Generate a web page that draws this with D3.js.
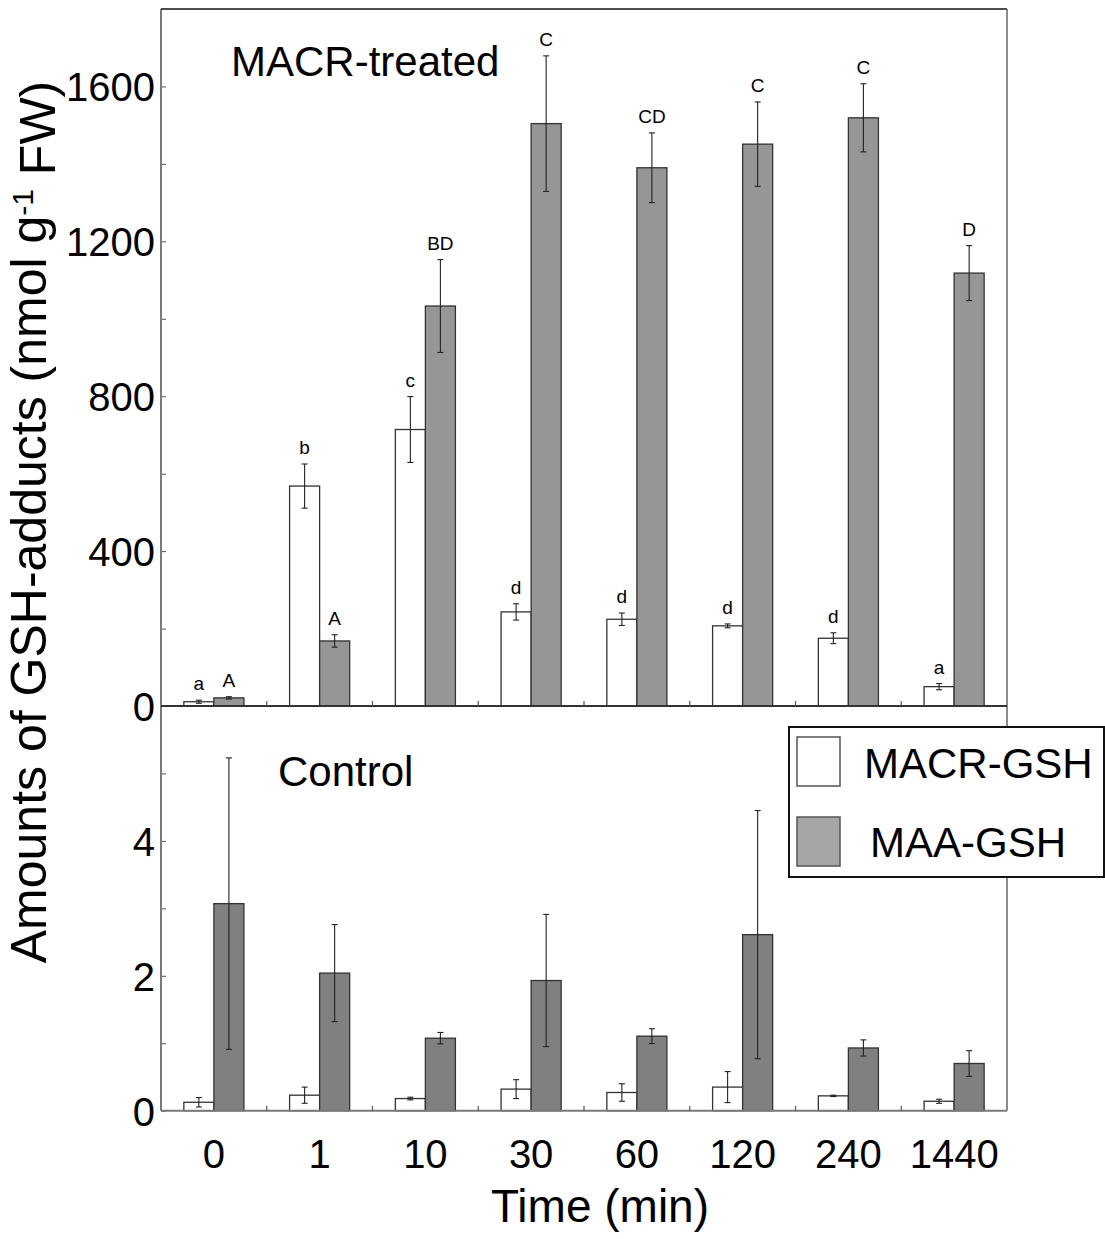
<!DOCTYPE html>
<html>
<head>
<meta charset="utf-8">
<script src="https://cdn.jsdelivr.net/npm/d3@7"></script>
<style>
  html, body { margin: 0; padding: 0; background: #fff; }
  svg { display: block; }
  text { font-family: "Liberation Sans", Arial, Helvetica, sans-serif; fill: #000; }
</style>
</head>
<body>
<svg id="chart" width="1105" height="1239"></svg>
<script>
// ---------- data ----------
const categories = ["0", "1", "10", "30", "60", "120", "240", "1440"];
const seriesNames = ["MACR-GSH", "MAA-GSH"];

// MACR-treated panel (nmol g-1 FW)
const treatedMACR    = [11, 568, 714, 243, 224, 207, 175, 50];
const treatedMACRErr = [4, 57, 85, 21, 16, 5, 14, 8];
const treatedMAA     = [21, 168, 1033, 1504, 1390, 1451, 1519, 1118];
const treatedMAAErr  = [3, 16, 120, 175, 90, 109, 88, 71];
const treatedMACRLetters = ["a", "b", "c", "d", "d", "d", "d", "a"];
const treatedMAALetters  = ["A", "A", "BD", "C", "CD", "C", "C", "D"];

// Control panel
const controlMACR    = [0.125, 0.23, 0.18, 0.32, 0.27, 0.35, 0.22, 0.14];
const controlMACRErr = [0.07, 0.12, 0.02, 0.14, 0.13, 0.23, 0.01, 0.03];
const controlMAA     = [3.07, 2.04, 1.075, 1.93, 1.105, 2.61, 0.93, 0.70];
const controlMAAErr  = [2.16, 0.72, 0.085, 0.98, 0.11, 1.84, 0.12, 0.19];

const topTicks = [0, 400, 800, 1200, 1600];
const topMinor = [200, 600, 1000, 1400];
const botTicks = [0, 2, 4];
const botMinor = [1, 3, 5];

// ---------- layout ----------
const L = 161, R = 1007, T = 9, MID = 706, B = 1110.7;
const svg = d3.select("#chart");

const x0 = d3.scaleBand().domain(categories).range([L, R]).paddingInner(0).paddingOuter(0);
const barW = x0.bandwidth() * 0.284;
const x1 = d3.scaleBand().domain(seriesNames).range([0, 2 * barW]);
const off = (x0.bandwidth() - 2 * barW) / 2;

const yTop = d3.scaleLinear().domain([0, 1800]).range([MID, T]);
const yBot = d3.scaleLinear().domain([0, 6]).range([B, MID]);

function buildRows(a, ae, b, be, la, lb) {
  return categories.map((c, i) => ([
    { cat: c, s: seriesNames[0], v: a[i], e: ae[i], lab: la ? la[i] : null },
    { cat: c, s: seriesNames[1], v: b[i], e: be[i], lab: lb ? lb[i] : null }
  ])).flat();
}

const topRows = buildRows(treatedMACR, treatedMACRErr, treatedMAA, treatedMAAErr, treatedMACRLetters, treatedMAALetters);
const botRows = buildRows(controlMACR, controlMACRErr, controlMAA, controlMAAErr, null, null);

function drawPanel(rows, y, grayFill, grayStroke) {
  const g = svg.append("g");
  g.selectAll("rect.bar").data(rows).join("rect")
    .attr("class", "bar")
    .attr("x", d => x0(d.cat) + off + x1(d.s))
    .attr("width", barW)
    .attr("y", d => y(d.v))
    .attr("height", d => y(0) - y(d.v))
    .attr("fill", d => d.s === seriesNames[0] ? "#ffffff" : grayFill)
    .attr("stroke", d => d.s === seriesNames[0] ? "#333" : grayStroke)
    .attr("stroke-width", 1.3);
  const cx = d => x0(d.cat) + off + x1(d.s) + barW / 2;
  g.selectAll("line.err").data(rows).join("line")
    .attr("x1", cx).attr("x2", cx)
    .attr("y1", d => y(d.v + d.e)).attr("y2", d => y(Math.max(0, d.v - d.e)))
    .attr("stroke", "#222").attr("stroke-width", 1.1);
  ["hi", "lo"].forEach(k => {
    g.selectAll("line.cap" + k).data(rows).join("line")
      .attr("x1", d => cx(d) - 3).attr("x2", d => cx(d) + 3)
      .attr("y1", d => y(k === "hi" ? d.v + d.e : Math.max(0, d.v - d.e)))
      .attr("y2", d => y(k === "hi" ? d.v + d.e : Math.max(0, d.v - d.e)))
      .attr("stroke", "#222").attr("stroke-width", 1.1);
  });
  g.selectAll("text.lab").data(rows.filter(d => d.lab)).join("text")
    .attr("x", cx)
    .attr("y", d => y(d.v + d.e) - 10)
    .attr("text-anchor", "middle")
    .style("font-size", "19px")
    .text(d => d.lab);
}

drawPanel(topRows, yTop, "#969696", "#333");
drawPanel(botRows, yBot, "#808080", "#333");

// ---------- axes ----------
function yAxis(y, ticks, minor) {
  const gMaj = svg.append("g").attr("transform", `translate(${L},0)`)
    .call(d3.axisLeft(y).tickValues(ticks).tickSize(-5).tickPadding(6).tickFormat(d3.format("d")));
  gMaj.select(".domain").remove();
  gMaj.selectAll(".tick line").attr("stroke", "#555");
  gMaj.selectAll(".tick text").style("font-size", "40px").style("font-family", "Liberation Sans, Arial, sans-serif").attr("dy", "0.36em");
  const gMin = svg.append("g").attr("transform", `translate(${L},0)`)
    .call(d3.axisLeft(y).tickValues(minor).tickSize(-5).tickFormat(""));
  gMin.select(".domain").remove();
  gMin.selectAll(".tick line").attr("stroke", "#555");
}
yAxis(yTop, topTicks, topMinor);
yAxis(yBot, botTicks, botMinor);

// frame lines
svg.append("line").attr("x1", L).attr("x2", L).attr("y1", T).attr("y2", B).attr("stroke", "#7a7a7a").attr("stroke-width", 2);
svg.append("line").attr("x1", L).attr("x2", R).attr("y1", T).attr("y2", T).attr("stroke", "#111").attr("stroke-width", 1.3);
svg.append("line").attr("x1", R).attr("x2", R).attr("y1", T).attr("y2", B).attr("stroke", "#666").attr("stroke-width", 1.5);
svg.append("line").attr("x1", L).attr("x2", R).attr("y1", MID).attr("y2", MID).attr("stroke", "#333").attr("stroke-width", 2);
svg.append("line").attr("x1", L).attr("x2", R).attr("y1", B).attr("y2", B).attr("stroke", "#7a7a7a").attr("stroke-width", 2);

// x separator ticks (upward) on both baselines
[MID, B].forEach(yy => {
  svg.append("g").selectAll("line").data(categories.slice(1)).join("line")
    .attr("x1", d => x0(d)).attr("x2", d => x0(d))
    .attr("y1", yy).attr("y2", yy - 5)
    .attr("stroke", "#555").attr("stroke-width", 1.2);
});

// x tick labels
const xAx = svg.append("g").attr("transform", `translate(0,${B})`)
  .call(d3.axisBottom(x0).tickSize(0).tickPadding(0));
xAx.select(".domain").remove();
xAx.selectAll(".tick text").attr("y", 57).attr("dy", 0)
  .style("font-size", "40px").style("font-family", "Liberation Sans, Arial, sans-serif");

// axis titles
svg.append("text").attr("x", 600).attr("y", 1222).attr("text-anchor", "middle")
  .style("font-size", "46px").text("Time (min)");

const yt = svg.append("text")
  .attr("transform", "translate(46,522) rotate(-90)")
  .attr("text-anchor", "middle")
  .style("font-size", "50px");
yt.append("tspan").text("Amounts of GSH-adducts (nmol g");
yt.append("tspan").attr("dy", "-0.45em").style("font-size", "30px").text("-1");
yt.append("tspan").attr("dy", "0.45em").text(" FW)");

// panel titles
svg.append("text").attr("x", 231).attr("y", 76).style("font-size", "42px").text("MACR-treated");
svg.append("text").attr("x", 278).attr("y", 786).style("font-size", "42px").text("Control");

// legend
const lg = svg.append("g");
lg.append("rect").attr("x", 789).attr("y", 727).attr("width", 315).attr("height", 150)
  .attr("fill", "#fff").attr("stroke", "#111").attr("stroke-width", 2);
const legendFills = ["#ffffff", "#a6a6a6"];
const legendY = [737, 817];
const legendTextX = [864, 870];
const legendTextY = [778, 857];
seriesNames.forEach((s, i) => {
  lg.append("rect").attr("x", 797).attr("y", legendY[i]).attr("width", 43).attr("height", 49)
    .attr("fill", legendFills[i]).attr("stroke", "#555").attr("stroke-width", 1.5);
  lg.append("text").attr("x", legendTextX[i]).attr("y", legendTextY[i])
    .style("font-size", "42px").text(s);
});
</script>
</body>
</html>
